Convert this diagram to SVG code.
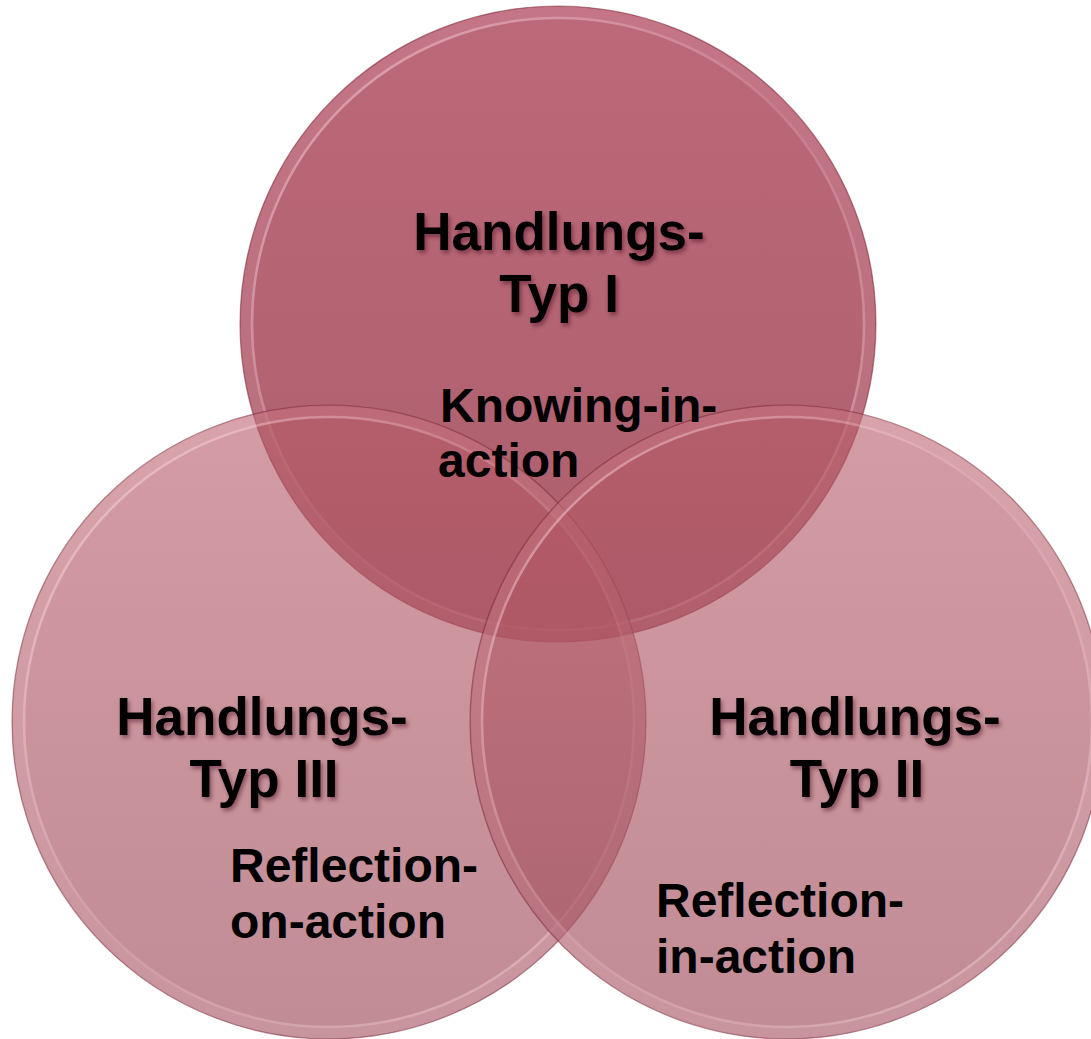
<svg xmlns="http://www.w3.org/2000/svg" width="1091" height="1039" viewBox="0 0 1091 1039">
  <defs>
    <linearGradient id="gTop" x1="0" y1="0" x2="0" y2="1">
      <stop offset="0" stop-color="rgb(162,46,70)" stop-opacity="0.72"/>
      <stop offset="1" stop-color="rgb(145,44,62)" stop-opacity="0.76"/>
    </linearGradient>
    <linearGradient id="gSide" x1="0" y1="0" x2="0" y2="1">
      <stop offset="0" stop-color="rgb(183,90,103)" stop-opacity="0.6"/>
      <stop offset="1" stop-color="rgb(160,80,95)" stop-opacity="0.66"/>
    </linearGradient>
    <linearGradient id="gRim" x1="0" y1="0" x2="1" y2="1">
      <stop offset="0" stop-color="rgb(255,225,232)" stop-opacity="0.55"/>
      <stop offset="0.5" stop-color="rgb(255,215,225)" stop-opacity="0.2"/>
      <stop offset="1" stop-color="rgb(255,225,232)" stop-opacity="0.45"/>
    </linearGradient>
    <filter id="shadow" x="-10%" y="-20%" width="130%" height="150%">
      <feDropShadow dx="2" dy="3" stdDeviation="2" flood-color="#3a0a14" flood-opacity="0.45"/>
    </filter>
  </defs>
  <style>
    .edge { fill: none; stroke: rgb(120,40,56); stroke-opacity: 0.5; stroke-width: 1.2; }
    .band { fill: none; stroke: rgb(255,210,220); stroke-opacity: 0.12; stroke-width: 10; }
    .rim { fill: none; stroke: url(#gRim); stroke-width: 2.5; }
    text { font-family: "Liberation Sans", Arial, sans-serif; font-weight: bold; fill: #000; }
    .big { font-size: 53px; text-anchor: middle; filter: url(#shadow); }
    .small { font-size: 48px; }
  </style>
  <rect width="1091" height="1039" fill="#ffffff"/>
  <g id="typ1">
    <circle cx="558" cy="324" r="318" fill="url(#gTop)"/>
    <circle cx="558" cy="324" r="312" class="band"/>
    <circle cx="558" cy="324" r="306" class="rim"/>
    <circle cx="558" cy="324" r="318" class="edge"/>
  </g>
  <g id="typ3">
    <circle cx="329" cy="722" r="317" fill="url(#gSide)"/>
    <circle cx="329" cy="722" r="311" class="band"/>
    <circle cx="329" cy="722" r="305" class="rim"/>
    <circle cx="329" cy="722" r="317" class="edge"/>
  </g>
  <g id="typ2">
    <circle cx="787" cy="722" r="317" fill="url(#gSide)"/>
    <circle cx="787" cy="722" r="311" class="band"/>
    <circle cx="787" cy="722" r="305" class="rim"/>
    <circle cx="787" cy="722" r="317" class="edge"/>
  </g>
  <g id="connectors"/>
  <g id="labels">
    <text class="big" x="559" y="250">Handlungs-</text>
    <text class="big" x="559" y="312">Typ I</text>
    <text class="small" x="440" y="422">Knowing-in-</text>
    <text class="small" x="438" y="477">action</text>
    <text class="big" x="262" y="735">Handlungs-</text>
    <text class="big" x="264" y="797">Typ III</text>
    <text class="small" x="230" y="882">Reflection-</text>
    <text class="small" x="230" y="938">on-action</text>
    <text class="big" x="855" y="735">Handlungs-</text>
    <text class="big" x="857" y="797">Typ II</text>
    <text class="small" x="656" y="917">Reflection-</text>
    <text class="small" x="656" y="973">in-action</text>
  </g>
</svg>
